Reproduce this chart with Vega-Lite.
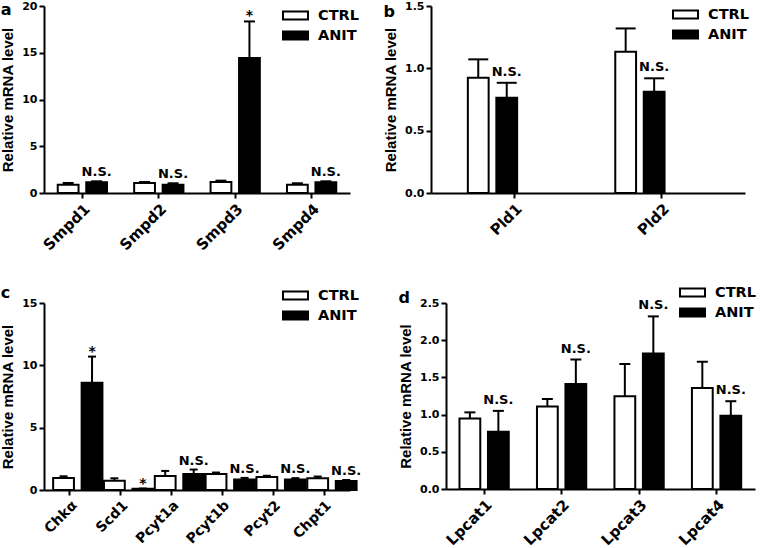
{
  "$schema": "https://vega.github.io/schema/vega-lite/v6.json",
  "padding": {"left": 0, "top": 0, "right": 0, "bottom": 0},
  "background": "white",
  "config": {
    "view": {"stroke": null},
    "font": "DejaVu Sans",
    "axis": {
      "grid": false,
      "domainColor": "black", "domainWidth": 2,
      "tickColor": "black", "tickWidth": 2, "tickSize": 5,
      "labelFont": "DejaVu Sans", "labelFontWeight": "bold", "labelColor": "black",
      "titleFont": "Liberation Sans", "titleFontWeight": "bold", "titleFontSize": 15, "titleColor": "black"
    },
    "axisY": {"labelFontSize": 11, "titlePadding": 6, "labelPadding": 2, "labelOverlap": false, "tickCount": 10},
    "axisX": {"labelFontSize": 15, "labelAngle": -45, "title": null, "labelPadding": 3},
    "legend": {
      "orient": "none", "title": null, "padding": 0,
      "symbolType": "M-1.667,-0.533H1.667V0.533H-1.667Z", "symbolSize": 225,
      "symbolStrokeColor": "black", "symbolStrokeWidth": 2,
      "labelFont": "DejaVu Sans", "labelFontWeight": "bold", "labelFontSize": 14.5, "labelColor": "black",
      "labelOffset": 14, "rowPadding": 3
    },
    "title": {"anchor": "start", "frame": "bounds", "font": "DejaVu Sans", "fontSize": 16, "fontWeight": "bold", "color": "black"}
  },
  "datasets": {
    "a": [
      {"gene": "Smpd1", "group": "CTRL", "value": 0.89, "upper": 1.07},
      {"gene": "Smpd1", "group": "ANIT", "value": 1.14, "upper": 1.25, "label": "N.S."},
      {"gene": "Smpd2", "group": "CTRL", "value": 1.07, "upper": 1.18},
      {"gene": "Smpd2", "group": "ANIT", "value": 0.89, "upper": 1.04, "label": "N.S."},
      {"gene": "Smpd3", "group": "CTRL", "value": 1.18, "upper": 1.32},
      {"gene": "Smpd3", "group": "ANIT", "value": 14.45, "upper": 18.35, "label": "*"},
      {"gene": "Smpd4", "group": "CTRL", "value": 0.89, "upper": 1.04},
      {"gene": "Smpd4", "group": "ANIT", "value": 1.14, "upper": 1.25, "label": "N.S."}
    ],
    "b": [
      {"gene": "Pld1", "group": "CTRL", "value": 0.924, "upper": 1.072},
      {"gene": "Pld1", "group": "ANIT", "value": 0.764, "upper": 0.884, "label": "N.S."},
      {"gene": "Pld2", "group": "CTRL", "value": 1.133, "upper": 1.32},
      {"gene": "Pld2", "group": "ANIT", "value": 0.812, "upper": 0.92, "label": "N.S."}
    ],
    "c": [
      {"gene": "Chkα", "group": "CTRL", "value": 0.97, "upper": 1.1},
      {"gene": "Chkα", "group": "ANIT", "value": 8.6, "upper": 10.7, "label": "*"},
      {"gene": "Scd1", "group": "CTRL", "value": 0.75, "upper": 0.94},
      {"gene": "Scd1", "group": "ANIT", "value": 0.1, "upper": 0.12, "label": "*"},
      {"gene": "Pcyt1a", "group": "CTRL", "value": 1.13, "upper": 1.53},
      {"gene": "Pcyt1a", "group": "ANIT", "value": 1.29, "upper": 1.64, "label": "N.S."},
      {"gene": "Pcyt1b", "group": "CTRL", "value": 1.29, "upper": 1.4},
      {"gene": "Pcyt1b", "group": "ANIT", "value": 0.85, "upper": 0.97, "label": "N.S."},
      {"gene": "Pcyt2", "group": "CTRL", "value": 1.05, "upper": 1.14},
      {"gene": "Pcyt2", "group": "ANIT", "value": 0.85, "upper": 0.95, "label": "N.S."},
      {"gene": "Chpt1", "group": "CTRL", "value": 0.95, "upper": 1.08},
      {"gene": "Chpt1", "group": "ANIT", "value": 0.72, "upper": 0.8, "label": "N.S."}
    ],
    "d": [
      {"gene": "Lpcat1", "group": "CTRL", "value": 0.947, "upper": 1.03},
      {"gene": "Lpcat1", "group": "ANIT", "value": 0.77, "upper": 1.05, "label": "N.S."},
      {"gene": "Lpcat2", "group": "CTRL", "value": 1.11, "upper": 1.21},
      {"gene": "Lpcat2", "group": "ANIT", "value": 1.41, "upper": 1.74, "label": "N.S."},
      {"gene": "Lpcat3", "group": "CTRL", "value": 1.245, "upper": 1.68},
      {"gene": "Lpcat3", "group": "ANIT", "value": 1.82, "upper": 2.32, "label": "N.S."},
      {"gene": "Lpcat4", "group": "CTRL", "value": 1.357, "upper": 1.71},
      {"gene": "Lpcat4", "group": "ANIT", "value": 0.985, "upper": 1.18, "label": "N.S."}
    ]
  },
  "spacing": 31,
  "resolve": {"scale": {"fill": "independent"}, "legend": {"fill": "independent"}},
  "vconcat": [
    {
      "bounds": "flush",
      "spacing": 81,
      "resolve": {"scale": {"fill": "independent"}, "legend": {"fill": "independent"}},
      "hconcat": [
        {
          "width": 306, "height": 187,
          "data": {"name": "a"},
          "title": {"text": "a", "offset": -17.5},
          "encoding": {
            "x": {"field": "gene", "type": "nominal", "sort": null, "scale": {"paddingInner": 0.355, "paddingOuter": 0.18}},
            "xOffset": {"field": "group", "type": "nominal", "sort": ["CTRL", "ANIT"], "scale": {"paddingInner": 0.27, "paddingOuter": 0}}
          },
          "layer": [
            {
              "mark": {"type": "bar", "stroke": "black", "strokeWidth": 2},
              "encoding": {
                "y": {"field": "value", "type": "quantitative", "scale": {"domain": [0, 20], "nice": false}, "axis": {"values": [0, 5, 10, 15, 20], "title": "Relative mRNA level"}},
                "fill": {"field": "group", "type": "nominal", "scale": {"domain": ["CTRL", "ANIT"], "range": ["white", "black"]}, "legend": {"legendX": 243, "legendY": 1}}
              }
            },
            {"mark": {"type": "rule", "strokeWidth": 2, "color": "black"}, "encoding": {"y": {"field": "value", "type": "quantitative"}, "y2": {"field": "upper"}}},
            {"mark": {"type": "tick", "thickness": 2, "size": 11, "color": "black", "opacity": 1}, "encoding": {"y": {"field": "upper", "type": "quantitative"}}},
            {"transform": [{"filter": "datum.label == 'N.S.'"}], "mark": {"type": "text", "fontSize": 13, "fontWeight": "bold", "baseline": "alphabetic", "dy": -5, "color": "black"}, "encoding": {"y": {"field": "upper", "type": "quantitative"}, "text": {"field": "label"}}},
            {"transform": [{"filter": "datum.label == '*'"}], "mark": {"type": "text", "fontSize": 14, "fontWeight": "bold", "baseline": "alphabetic", "dy": -1, "color": "black"}, "encoding": {"y": {"field": "upper", "type": "quantitative"}, "text": {"field": "label"}}}
          ]
        },
        {
          "width": 314, "height": 187,
          "data": {"name": "b"},
          "title": {"text": "b", "offset": -19.7},
          "encoding": {
            "x": {"field": "gene", "type": "nominal", "sort": null, "scale": {"paddingInner": 0.37, "paddingOuter": 0.25}},
            "xOffset": {"field": "group", "type": "nominal", "sort": ["CTRL", "ANIT"], "scale": {"paddingInner": 0.31, "paddingOuter": 0}}
          },
          "layer": [
            {
              "mark": {"type": "bar", "stroke": "black", "strokeWidth": 2},
              "encoding": {
                "y": {"field": "value", "type": "quantitative", "scale": {"domain": [0, 1.5], "nice": false}, "axis": {"values": [0, 0.5, 1, 1.5], "format": ".1f", "title": "Relative mRNA level"}},
                "fill": {"field": "group", "type": "nominal", "scale": {"domain": ["CTRL", "ANIT"], "range": ["white", "black"]}, "legend": {"legendX": 246, "legendY": 0}}
              }
            },
            {"mark": {"type": "rule", "strokeWidth": 2, "color": "black"}, "encoding": {"y": {"field": "value", "type": "quantitative"}, "y2": {"field": "upper"}}},
            {"mark": {"type": "tick", "thickness": 2, "size": 20, "color": "black", "opacity": 1}, "encoding": {"y": {"field": "upper", "type": "quantitative"}}},
            {"transform": [{"filter": "datum.label == 'N.S.'"}], "mark": {"type": "text", "fontSize": 13, "fontWeight": "bold", "baseline": "alphabetic", "dy": -7, "color": "black"}, "encoding": {"y": {"field": "upper", "type": "quantitative"}, "text": {"field": "label"}}}
          ]
        }
      ]
    },
    {
      "bounds": "flush",
      "spacing": 96,
      "resolve": {"scale": {"fill": "independent"}, "legend": {"fill": "independent"}},
      "hconcat": [
        {
          "width": 306, "height": 187,
          "data": {"name": "c"},
          "title": {"text": "c", "offset": -13.7},
          "encoding": {
            "x": {"field": "gene", "type": "nominal", "sort": null, "scale": {"paddingInner": 0.34, "paddingOuter": 0.18}, "axis": {"labelFontSize": 14}},
            "xOffset": {"field": "group", "type": "nominal", "sort": ["CTRL", "ANIT"], "scale": {"paddingInner": 0.21, "paddingOuter": 0}}
          },
          "layer": [
            {
              "mark": {"type": "bar", "stroke": "black", "strokeWidth": 2},
              "encoding": {
                "y": {"field": "value", "type": "quantitative", "scale": {"domain": [0, 15], "nice": false}, "axis": {"values": [0, 5, 10, 15], "title": "Relative mRNA level"}},
                "fill": {"field": "group", "type": "nominal", "scale": {"domain": ["CTRL", "ANIT"], "range": ["white", "black"]}, "legend": {"legendX": 243, "legendY": -16}}
              }
            },
            {"mark": {"type": "rule", "strokeWidth": 2, "color": "black"}, "encoding": {"y": {"field": "value", "type": "quantitative"}, "y2": {"field": "upper"}}},
            {"mark": {"type": "tick", "thickness": 2, "size": 8, "color": "black", "opacity": 1}, "encoding": {"y": {"field": "upper", "type": "quantitative"}}},
            {"transform": [{"filter": "datum.label == 'N.S.'"}], "mark": {"type": "text", "fontSize": 13, "fontWeight": "bold", "baseline": "alphabetic", "dy": -5, "color": "black"}, "encoding": {"y": {"field": "upper", "type": "quantitative"}, "text": {"field": "label"}}},
            {"transform": [{"filter": "datum.label == '*'"}], "mark": {"type": "text", "fontSize": 14, "fontWeight": "bold", "baseline": "alphabetic", "dy": -1, "color": "black"}, "encoding": {"y": {"field": "upper", "type": "quantitative"}, "text": {"field": "label"}}}
          ]
        },
        {
          "width": 309, "height": 186,
          "data": {"name": "d"},
          "title": {"text": "d", "offset": -21.7},
          "encoding": {
            "x": {"field": "gene", "type": "nominal", "sort": null, "scale": {"paddingInner": 0.36, "paddingOuter": 0.174}},
            "xOffset": {"field": "group", "type": "nominal", "sort": ["CTRL", "ANIT"], "scale": {"paddingInner": 0.31, "paddingOuter": 0}}
          },
          "layer": [
            {
              "mark": {"type": "bar", "stroke": "black", "strokeWidth": 2},
              "encoding": {
                "y": {"field": "value", "type": "quantitative", "scale": {"domain": [0, 2.5], "nice": false}, "axis": {"values": [0, 0.5, 1, 1.5, 2, 2.5], "format": ".1f", "title": "Relative mRNA level"}},
                "fill": {"field": "group", "type": "nominal", "scale": {"domain": ["CTRL", "ANIT"], "range": ["white", "black"]}, "legend": {"legendX": 238, "legendY": -19}}
              }
            },
            {"mark": {"type": "rule", "strokeWidth": 2, "color": "black"}, "encoding": {"y": {"field": "value", "type": "quantitative"}, "y2": {"field": "upper"}}},
            {"mark": {"type": "tick", "thickness": 2, "size": 11, "color": "black", "opacity": 1}, "encoding": {"y": {"field": "upper", "type": "quantitative"}}},
            {"transform": [{"filter": "datum.label == 'N.S.'"}], "mark": {"type": "text", "fontSize": 13, "fontWeight": "bold", "baseline": "alphabetic", "dy": -7, "color": "black"}, "encoding": {"y": {"field": "upper", "type": "quantitative"}, "text": {"field": "label"}}}
          ]
        }
      ]
    }
  ]
}
